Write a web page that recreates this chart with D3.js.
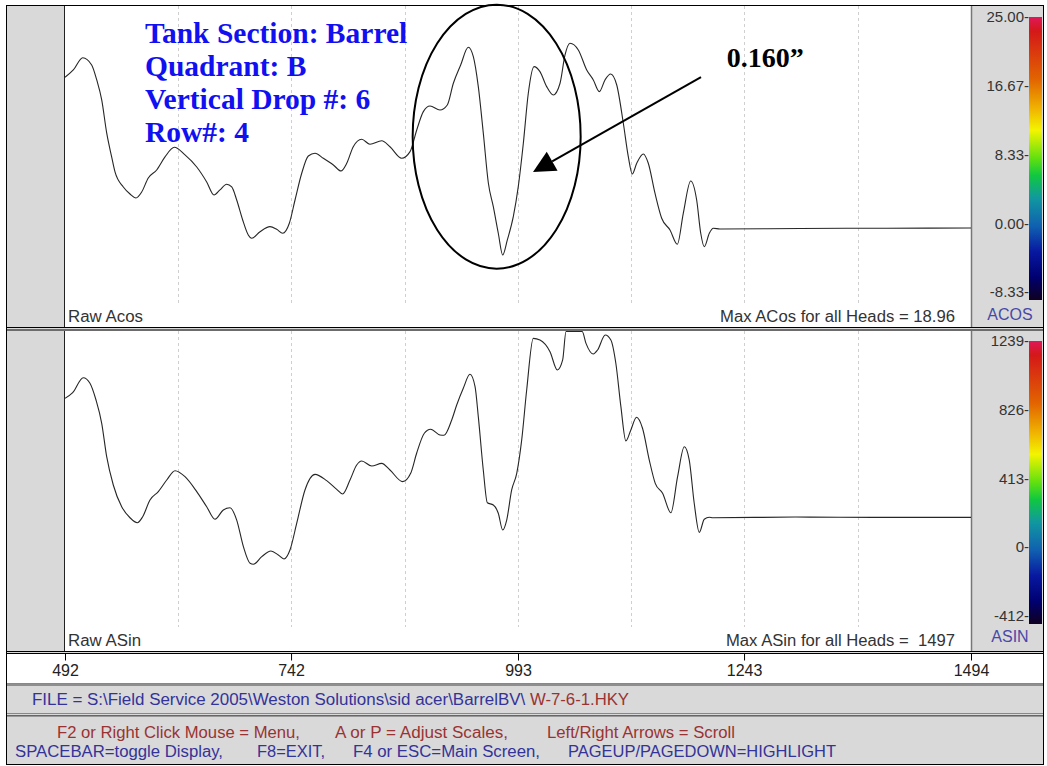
<!DOCTYPE html>
<html><head><meta charset="utf-8">
<script src="https://cdn.jsdelivr.net/npm/d3@7"></script>
<style>
html,body{margin:0;padding:0;background:#fff;}
svg{display:block;}
text{white-space:pre;}
</style></head>
<body>
<script>
// ---------- DATA ----------
const acosX = [492,501.2,511.6,521.5,527.1,532.6,538.1,543.6,547.3,556.5,563.9,570.5,576.8,584.1,593.4,602.6,612.9,624.7,637.7,648.7,656.8,663.4,670.8,676.4,681.9,688.5,694.7,698.5,707.7,718.7,726.1,732.8,740.1,746.4,753.8,761.1,768.5,777.7,788.8,797.2,803.6,810.8,820.1,829.3,842.3,851.4,864.4,873.6,881,888.3,895.7,906.7,914.8,921.5,929.6,938,943.6,949.1,954.6,960.2,965.7,971.2,976.1,981.2,987.8,993.3,998.9,1004.4,1010.7,1017.3,1024.7,1032,1039.5,1045,1050.5,1059.7,1069,1076.3,1082.9,1089.2,1095.5,1102.2,1109.5,1115,1119.4,1124.3,1131.6,1137.1,1144.5,1151.9,1161.1,1169.2,1175.8,1184,1190.6,1195.1,1199,1204.6,1209,1216.4,1305,1400,1494];
const acosY = [17.7,18.58,20.07,19.19,17.37,14.95,10.95,8.04,6.22,4.4,3.55,3.07,3.79,5.49,6.46,8.04,9.21,8.28,6.82,5.01,3.43,4.04,4.73,4.4,2.82,0.4,-1.42,-1.82,-1.02,-0.41,-0.73,-1.21,0,2.82,6.06,8.16,8.48,7.88,7.07,6.34,7.27,9.28,10.18,9.58,10.01,9.28,7.88,8.68,11.31,13.53,14.22,13.73,14.34,16.97,19.19,21.33,20.19,16.56,10.95,4.88,2.01,-1.21,-3.84,-2.02,0.8,4.44,9.7,15.76,18.98,18.38,16.56,15.55,16.97,20.4,21.82,21.01,18.58,17.37,15.95,17.37,18.1,16.76,12.12,8.07,5.98,7.27,8.4,7.27,3.64,0.61,-0.81,-2.55,1.21,5.13,2.82,-1.21,-2.84,-1.21,-0.61,-0.69,-0.63,-0.6,-0.57];

const asinX = [492,500.5,512.2,519.6,526.3,532.6,538.1,545.4,554.7,563.9,572,577.9,586,595.2,604.5,613.7,624.7,637.7,648.7,657.9,667.1,674.5,681.9,689.3,696.7,700.3,709.6,719.8,727.9,734.2,740.8,748.3,757.4,768.5,781.4,792.5,799.1,807.2,814.6,820.1,831.2,842.3,851.4,865.5,874.3,880.9,889.4,896.4,906.7,911.2,919.7,925.2,932.5,939.9,945.5,949.1,954.6,959.1,965.7,971.2,976.1,980.5,986,991.6,997.1,1002.6,1009.9,1017.3,1028.4,1036.5,1042.4,1046.1,1052,1058,1064,1068.2,1076.3,1081,1089.5,1095.7,1101.2,1106.8,1112.3,1117.8,1124.1,1130.7,1138.2,1144.8,1152.9,1162.1,1169.5,1176.9,1182.4,1187.9,1193.5,1199,1204.6,1208.4,1300,1400,1494];
const asinY = [894,928,1018,985,884,744,543,373,242,176,146,182,283,333,403,459,423,333,242,167,223,236,162,2,-98,-104,-58,-24,-48,-72,-18,143,343,437,399,347,319,403,493,517,487,503,463,393,443,564,684,708,674,672,764,854,955,1039,964,784,463,266,253,203,102,162,343,443,644,944,1255,1245,1175,1065,1125,1320,1420,1440,1380,1225,1161,1185,1275,1245,1105,844,638,704,780,714,523,383,323,206,423,603,523,263,88,167,179,176,180,178,178];

const xTicks = [492,742,993,1243,1494];
const gridX = [617,742,868,993,1118,1243,1369];
const acosTicks = [25,16.67,8.33,0,-8.33];
const acosTickLabels = ["25.00","16.67","8.33","0.00","-8.33"];
const asinTicks = [1239,826,413,0,-412];
const asinTickLabels = ["1239","826","413","0","-412"];
const titleLines = ["Tank Section: Barrel","Quadrant: B","Vertical Drop #: 6","Row#: 4"];

// ---------- LAYOUT ----------
const W=1047,H=766;
const PL=65, PR=971;
const top1=6, bot1=327, top2=331, bot2=651;
const SANS="Liberation Sans, Arial, sans-serif", SERIF="Liberation Serif, Times New Roman, serif";
const svg=d3.select("body").append("svg").attr("width",W).attr("height",H).attr("font-family",SANS);

const x=d3.scaleLinear().domain([492,1494]).range([PL,PR]);
const yA=d3.scaleLinear().domain([-8.33,25]).range([292,17]);
const yS=d3.scaleLinear().domain([-412,1239]).range([615.5,341]);

const defs=svg.append("defs");
const grad=defs.append("linearGradient").attr("id","cb").attr("x1",0).attr("y1",0).attr("x2",0).attr("y2",1);
[[0,"#e0185a"],[0.05,"#d41818"],[0.22,"#e26400"],[0.33,"#f0b800"],[0.4,"#f4f400"],[0.5,"#60e010"],[0.56,"#10c840"],[0.64,"#1098a0"],[0.74,"#1060b0"],[0.83,"#0818a0"],[0.92,"#000070"],[1,"#100020"]]
 .forEach(s=>grad.append("stop").attr("offset",s[0]).attr("stop-color",s[1]));
defs.append("clipPath").attr("id","c1").append("rect").attr("x",PL).attr("y",top1).attr("width",PR-PL).attr("height",bot1-top1);
defs.append("clipPath").attr("id","c2").append("rect").attr("x",PL).attr("y",top2).attr("width",PR-PL).attr("height",bot2-top2);

// outer frame
svg.append("rect").attr("x",6.5).attr("y",5.5).attr("width",1037).attr("height",759).attr("fill","#d9d9d9").attr("stroke","#000");

function panel(y0,y1){
  svg.append("rect").attr("x",PL).attr("y",y0).attr("width",PR-PL).attr("height",y1-y0).attr("fill","#fff");
  svg.append("line").attr("x1",64.5).attr("x2",64.5).attr("y1",y0).attr("y2",y1).attr("stroke","#222");
  svg.append("line").attr("x1",PR+0.5).attr("x2",PR+0.5).attr("y1",y0).attr("y2",y1).attr("stroke","#777").attr("stroke-width",1.5);
}
panel(top1,bot1); panel(top2,bot2);
[[327.5,"#000"],[330,"#000"],[651.5,"#000"],[653.5,"#000"]].forEach(d=>svg.append("line").attr("x1",7).attr("x2",1043).attr("y1",d[0]).attr("y2",d[0]).attr("stroke",d[1]));
svg.append("rect").attr("x",7).attr("y",654).attr("width",1036).attr("height",29).attr("fill","#fff");
[[683.5,"#888"],[685,"#444"],[713.5,"#888"],[715.5,"#666"],[716.5,"#999"]].forEach(d=>svg.append("line").attr("x1",7).attr("x2",1043).attr("y1",d[0]).attr("y2",d[0]).attr("stroke",d[1]));

// grid lines
function grid(y0,y1){
  svg.append("g").selectAll("line").data(gridX).join("line")
   .attr("x1",d=>Math.round(x(d))+0.5).attr("x2",d=>Math.round(x(d))+0.5).attr("y1",y0).attr("y2",y1)
   .attr("stroke","#cfcfcf").attr("stroke-dasharray","3,3");
}
grid(top1,303); grid(top2,627);

// curves (values beyond the panel are held at its edge, as the instrument does)
const lineA=d3.line().x((d,i)=>x(acosX[i])).y(d=>Math.max(top1,yA(d))).curve(d3.curveMonotoneX);
const lineS=d3.line().x((d,i)=>x(asinX[i])).y(d=>Math.max(top2+0.5,yS(d))).curve(d3.curveMonotoneX);
svg.append("path").attr("d",lineA(acosY)).attr("fill","none").attr("stroke","#262626").attr("stroke-width",1.1).attr("clip-path","url(#c1)");
svg.append("path").attr("d",lineS(asinY)).attr("fill","none").attr("stroke","#262626").attr("stroke-width",1.1).attr("clip-path","url(#c2)");

function fitText(sel,len){ sel.attr("textLength",len).attr("lengthAdjust","spacingAndGlyphs"); return sel; }

// panel labels
fitText(svg.append("text").attr("x",68).attr("y",322).attr("font-size",16).attr("fill","#333").text("Raw Acos"),75);
fitText(svg.append("text").attr("x",720).attr("y",322).attr("font-size",16).attr("fill","#333").text("Max ACos for all Heads = 18.96"),235);
fitText(svg.append("text").attr("x",68).attr("y",646).attr("font-size",16).attr("fill","#333").text("Raw ASin"),73);
fitText(svg.append("text").attr("x",726).attr("y",646).attr("font-size",16).attr("fill","#333").text("Max ASin for all Heads =  1497"),229);

// colour bars
function cbar(scale,ticks,labels,yTop,yBot,name,nameY){
  svg.append("rect").attr("x",1029).attr("y",yTop).attr("width",13).attr("height",yBot-yTop).attr("fill","url(#cb)");
  svg.append("g").selectAll("text").data(ticks).join("text")
   .attr("x",1029).attr("y",d=>scale(d)).attr("dy","0.35em").attr("text-anchor","end")
   .attr("font-size",15).attr("fill","#333").text((d,i)=>labels[i]+"-");
  svg.append("text").attr("x",1010).attr("y",nameY).attr("text-anchor","middle").attr("font-size",16).attr("fill","#4848a8").text(name);
}
cbar(yA,acosTicks,acosTickLabels,17,300,"ACOS",320);
cbar(yS,asinTicks,asinTickLabels,341,624,"ASIN",642);

// x axis
const ax=svg.append("g").attr("transform","translate(0,653.5)").call(d3.axisBottom(x).tickValues(xTicks).tickFormat(d3.format("d")).tickSizeOuter(0).tickSize(7));
ax.select(".domain").remove();
ax.selectAll("line").attr("stroke","#000");
ax.selectAll("text").attr("font-size",16).attr("fill","#222").attr("font-family",SANS).attr("dy","0.8em");

// footer
const f=svg.append("text").attr("x",32).attr("y",705).attr("font-size",16);
fitText(f.append("tspan").attr("fill","#333399").text("FILE = S:\\Field Service 2005\\Weston Solutions\\sid acer\\BarrelBV\\ "),498);
fitText(f.append("tspan").attr("fill","#993333").text("W-7-6-1.HKY"),99);
[["F2 or Right Click Mouse = Menu,",57,243],["A or P = Adjust Scales,",335,173],["Left/Right Arrows = Scroll",547,188]].forEach(d=>
  fitText(svg.append("text").attr("x",d[1]).attr("y",738).attr("font-size",16).attr("fill","#993333").text(d[0]),d[2]));
[["SPACEBAR=toggle Display,",15,208],["F8=EXIT,",257,68],["F4 or ESC=Main Screen,",353,187],["PAGEUP/PAGEDOWN=HIGHLIGHT",568,268]].forEach(d=>
  fitText(svg.append("text").attr("x",d[1]).attr("y",757).attr("font-size",16).attr("fill","#333399").text(d[0]),d[2]));

// annotations
titleLines.forEach((t,i)=>svg.append("text").attr("x",145).attr("y",42.5+i*33).attr("font-family",SERIF).attr("font-weight","bold").attr("font-size",29.5).attr("fill","#1010f0").text(t));
svg.append("ellipse").attr("cx",x(969.4)).attr("cy",yA(10.5)).attr("rx",84).attr("ry",132).attr("fill","none").attr("stroke","#000").attr("stroke-width",2);
const tip=[x(1009.6),yA(6.2)], tail=[x(1195.4),yA(17.7)];
const ang=Math.atan2(tip[1]-tail[1],tip[0]-tail[0]);
const hl=22, hw=11;
const bx=tip[0]-hl*Math.cos(ang), by=tip[1]-hl*Math.sin(ang);
svg.append("line").attr("x1",tail[0]).attr("y1",tail[1]).attr("x2",bx).attr("y2",by).attr("stroke","#000").attr("stroke-width",2);
svg.append("path").attr("d",`M${tip[0]},${tip[1]}L${bx+hw*Math.sin(ang)},${by-hw*Math.cos(ang)}L${bx-hw*Math.sin(ang)},${by+hw*Math.cos(ang)}Z`).attr("fill","#000");
svg.append("text").attr("x",x(1224)).attr("y",67).attr("font-family",SERIF).attr("font-weight","bold").attr("font-size",28).attr("fill","#000").text("0.160\u201D");
</script>
</body></html>
